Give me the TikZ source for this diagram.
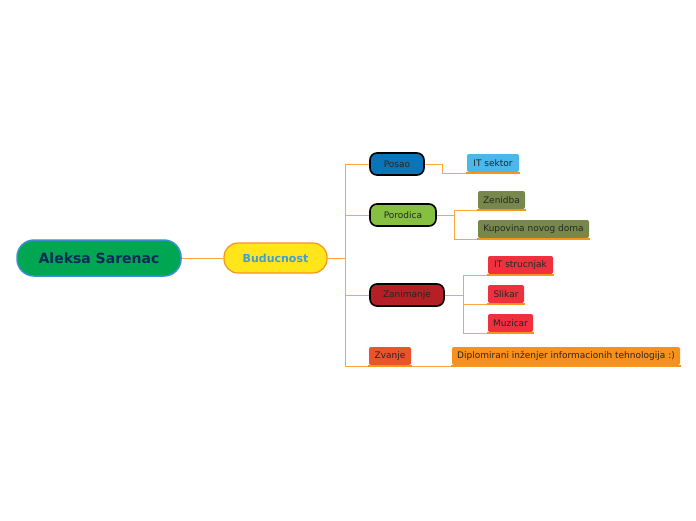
\documentclass[tikz,border=0pt]{standalone}
\usepackage{fontspec}
\setmainfont{DejaVu Sans}
\definecolor{linkc}{HTML}{F9A73E}
\definecolor{ulinec}{HTML}{F7941D}
\definecolor{rootc}{HTML}{00A651}
\definecolor{rootb}{HTML}{3A8FD0}
\definecolor{navyc}{HTML}{0B2A57}
\definecolor{futc}{HTML}{FFE51A}
\definecolor{futt}{HTML}{3AA0D8}
\definecolor{posaoc}{HTML}{0A74B8}
\definecolor{porodc}{HTML}{86C040}
\definecolor{zanc}{HTML}{B51F26}
\definecolor{itc}{HTML}{4DB8E8}
\definecolor{olivec}{HTML}{78884D}
\definecolor{redc}{HTML}{F0303F}
\definecolor{zvc}{HTML}{E85627}
\definecolor{dipc}{HTML}{F7901E}
\tikzset{
  link/.style={draw=linkc,line width=0.8pt},
  uline/.style={draw=ulinec,line width=2pt},
  topic/.style={draw=black,line width=1.6pt,rounded corners=7pt,minimum height=22pt,inner sep=0pt,text=black!85,font=\fontsize{9}{11}\selectfont},
  leaf/.style={rounded corners=2pt,minimum height=18pt,inner sep=0pt,text=black!85,font=\fontsize{9}{11}\selectfont},
}
\begin{document}
\begin{tikzpicture}[x=1pt,y=-1pt]
    \useasboundingbox (0,0) rectangle (696,520);
    \node [draw=rootb,line width=1.5pt,fill=rootc,rounded corners=17pt,minimum width=164pt,minimum height=36pt,inner sep=0pt,text=navyc,font=\bfseries\fontsize{14}{16}\selectfont] (root) at (99,258) {Aleksa Sarenac};
    \node [draw=ulinec,line width=1.2pt,fill=futc,rounded corners=14pt,minimum width=103pt,minimum height=30pt,inner sep=0pt,text=futt,font=\bfseries\fontsize{11}{13}\selectfont] (fut) at (275.5,258) {Buducnost};
    \node [topic,fill=posaoc,minimum width=54pt] (posao) at (397,164) {Posao};
    \node [topic,fill=porodc,minimum width=66pt] (porod) at (403,215) {Porodica};
    \node [topic,fill=zanc,minimum width=74pt] (zan) at (407,295) {Zanimanje};
    \node [leaf,fill=zvc,minimum width=42pt] (zvanje) at (390,356) {Zvanje};
    \node [leaf,fill=itc,minimum width=52pt] (itsek) at (493,163) {IT sektor};
    \node [leaf,fill=olivec,minimum width=47pt] (zenidba) at (501.5,200) {Zenidba};
    \node [leaf,fill=olivec,minimum width=111pt] (kupovina) at (533.5,229) {Kupovina novog doma};
    \node [leaf,fill=redc,minimum width=65pt] (itstr) at (520.5,265) {IT strucnjak};
    \node [leaf,fill=redc,minimum width=36pt] (slikar) at (506,294) {Slikar};
    \node [leaf,fill=redc,minimum width=45pt] (muzicar) at (510.5,323) {Muzicar};
    \node [leaf,fill=dipc,minimum width=228pt] (dipl) at (566,356) {Diplomirani inženjer informacionih tehnologija :)};
    \coordinate (hub) at (345,258);
    \draw [link] (root) -- (fut);
    \draw [link] (fut) -- (hub);
    \foreach \t in {posao,porod,zan} \draw [link] (hub) |- (\t);
    \draw [link] (hub) |- ([yshift=-1pt]zvanje.south west);
    \draw [link] (posao.east) -- ++(18,0) |- ([yshift=-1pt]itsek.south west);
    \draw [link] (porod.east) -- ++(18,0) coordinate (pj);
    \foreach \t in {zenidba,kupovina} \draw [link] (pj) |- ([yshift=-1pt]\t.south west);
    \draw [link] (zan.east) -- ++(19,0) coordinate (zj);
    \foreach \t in {itstr,slikar,muzicar} \draw [link] (zj) |- ([yshift=-1pt]\t.south west);
    \draw [link] ([yshift=-1pt]zvanje.south east) -- ([yshift=-1pt]dipl.south west);
    \foreach \t in {zvanje,itsek,zenidba,kupovina,itstr,slikar,muzicar,dipl}
        \draw [uline] ([xshift=-1pt,yshift=-1pt]\t.south west) -- ([xshift=1pt,yshift=-1pt]\t.south east);
\end{tikzpicture}
\end{document}
